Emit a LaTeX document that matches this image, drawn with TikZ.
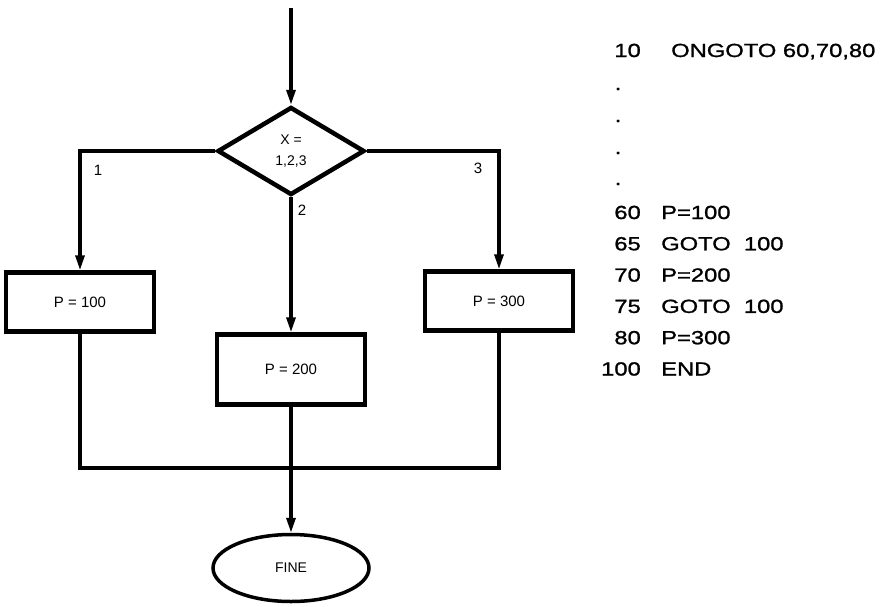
\documentclass[tikz,border=0pt]{standalone}
\usepackage{fontspec}
\setmainfont{Liberation Sans}
\newfontfamily\listfont[FakeStretch=1.25, FakeBold=1.2]{Liberation Sans}
\usetikzlibrary{arrows.meta, shapes.geometric}

\begin{document}
\begin{tikzpicture}[x=1pt, y=-1pt,
      proc/.style={draw, line width=4.5pt, minimum width=148pt, inner sep=0pt,
                   font=\fontsize{15}{17}\selectfont},
      cond/.style={draw, diamond, line width=4.5pt, minimum width=147pt, minimum height=88pt,
                   inner sep=0pt, align=center, font=\fontsize{14}{21}\selectfont},
      stop/.style={draw, ellipse, line width=3.5pt, minimum width=156pt, minimum height=67pt,
                   inner sep=0pt, font=\fontsize{14}{16}\selectfont},
      ln/.style={line width=3.2pt},
      ar/.style={ln, -{Triangle[length=15pt, width=9pt]}},
      lbl/.style={font=\fontsize{15}{17}\selectfont},
      num/.style={anchor=base east, inner sep=0pt, font=\listfont\fontsize{19}{22}\selectfont},
      code/.style={anchor=base west, inner sep=0pt, font=\listfont\fontsize{19}{22}\selectfont}
    ]
    \useasboundingbox (0,0) rectangle (884,606);

    \node[cond] (test) at (291,151) {X =\\1,2,3};
    \node[proc, minimum height=59pt] (p100) at (80,302) {P = 100};
    \node[proc, minimum height=70pt] (p200) at (291,369.5) {P = 200};
    \node[proc, minimum height=59pt] (p300) at (499,301) {P = 300};
    \node[stop] (fine) at (291,568) {FINE};

    \coordinate (entry) at (291,8);
    \coordinate (join) at (291,468);

    \draw[ar] (entry) -- (test.north);
    \draw[ar] (test.west) -| (p100.north);
    \draw[ar] (test.south) -- (p200.north);
    \draw[ar] (test.east) -| (p300.north);

    \node[lbl] (b1) at (98,170) {1};
    \node[lbl] (b2) at (302,210) {2};
    \node[lbl] (b3) at (478,168) {3};

    % merge
    \draw[ln] (p100.south) |- (join) -| (p300.south);
    \draw[ln] (p200.south) -- (join);
    \draw[ar] (join) -- (fine.north);

    % listing
    \node[num] (n10) at (641,57) {10};
    \node[code] (c10) at (671,57) {ONGOTO 60,70,80};
    \foreach \y [count=\i] in {90,122,154,185}
      \node[num, anchor=base] (d\i) at (618,\y) {.};
    \foreach \n/\t [count=\i] in {60/P=100, 65/GOTO\ \ 100, 70/P=200, 75/GOTO\ \ 100, 80/P=300, 100/END}
    {
      \node[num] (n\n) at (641,{219+31.3*(\i-1)}) {\n};
      \node[code] (c\n) at (661,{219+31.3*(\i-1)}) {\t};
    }
  \end{tikzpicture}
\end{document}
